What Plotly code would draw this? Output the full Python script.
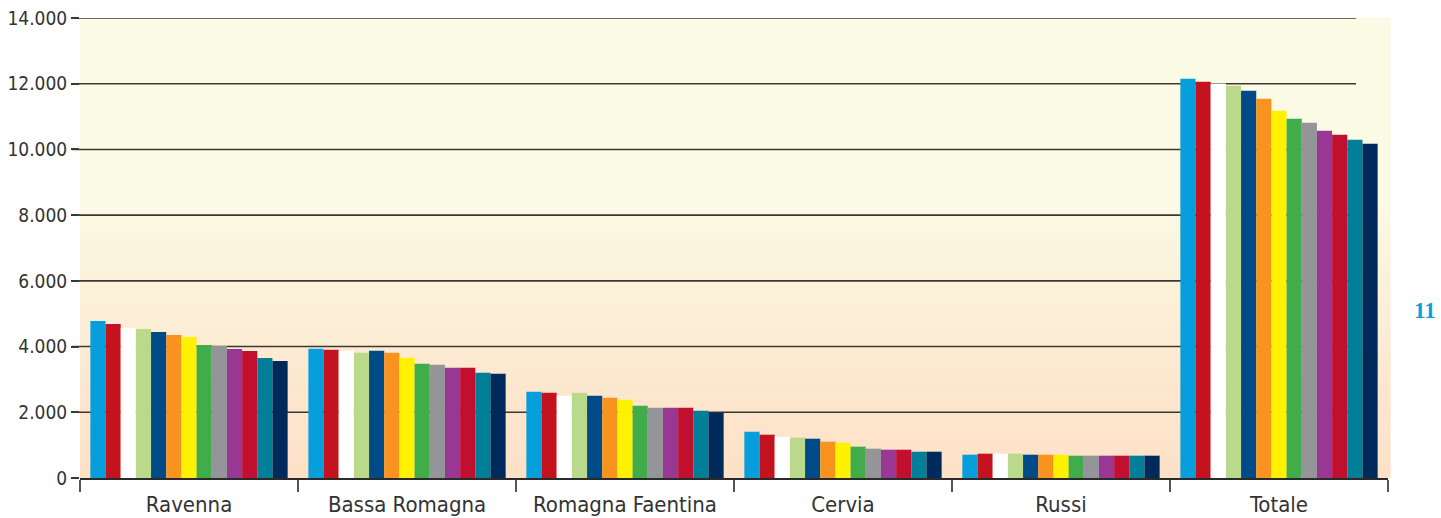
import plotly.graph_objects as go

categories = ["Ravenna", "Bassa Romagna", "Romagna Faentina", "Cervia", "Russi", "Totale"]

series_names = ["Serie 1", "Serie 2", "Serie 3", "Serie 4", "Serie 5", "Serie 6", "Serie 7",
                "Serie 8", "Serie 9", "Serie 10", "Serie 11", "Serie 12", "Serie 13"]

# values per series, in category order
s1 = [4780, 3935, 2627, 1409, 709, 12153]
s2 = [4690, 3905, 2596, 1318, 740, 12061]
s3 = [4565, 3874, 2505, 1257, 740, 12010]
s4 = [4535, 3813, 2596, 1227, 740, 11940]
s5 = [4443, 3874, 2505, 1196, 709, 11787]
s6 = [4352, 3813, 2444, 1105, 709, 11544]
s7 = [4291, 3661, 2383, 1074, 709, 11179]
s8 = [4048, 3479, 2200, 953, 679, 10935]
s9 = [4017, 3448, 2140, 892, 679, 10813]
s10 = [3926, 3357, 2140, 861, 679, 10570]
s11 = [3865, 3357, 2140, 861, 679, 10448]
s12 = [3652, 3205, 2048, 800, 679, 10296]
s13 = [3561, 3174, 1987, 800, 679, 10174]
series_values = [s1, s2, s3, s4, s5, s6, s7, s8, s9, s10, s11, s12, s13]

y_tick_values = [0, 2000, 4000, 6000, 8000, 10000, 12000, 14000]
y_tick_labels = ["0", "2.000", "4.000", "6.000", "8.000", "10.000", "12.000", "14.000"]

colors = ["#079fdb", "#c4121e", "#ffffff", "#bad98a", "#004b87", "#f7931e", "#fff200",
          "#40ad4a", "#939598", "#993894", "#c10f30", "#008098", "#002a5c"]

FONT = "DejaVu Sans Condensed, Liberation Sans Narrow, sans-serif"

fig = go.Figure()
for name, vals, col in zip(series_names, series_values, colors):
    fig.add_trace(go.Bar(x=categories, y=vals, name=name,
                         marker=dict(color=col, line=dict(width=0))))

shapes = []
# background gradient (pale yellow top -> peach bottom)
top = (251, 250, 228)
bot = (253, 225, 199)
n = 60
for i in range(n):
    y0 = i / n
    y1 = (i + 1) / n
    t = min(1.0, ((y0 + y1) / 2) / 0.6)
    t = t ** 1.2
    c = tuple(round(bot[k] + (top[k] - bot[k]) * t) for k in range(3))
    shapes.append(dict(type="rect", xref="paper", yref="paper", x0=0, x1=1.002, y0=y0, y1=y1 + 0.001,
                       fillcolor="rgb(%d,%d,%d)" % c, line=dict(width=0), layer="below"))
# gridlines (end before right edge)
for v in y_tick_values[1:]:
    shapes.append(dict(type="line", xref="paper", yref="y", x0=-0.006, x1=0.9755, y0=v, y1=v,
                       line=dict(color="#3a3834", width=1.6), layer="below"))

fig.update_layout(
    width=1441, height=518,
    margin=dict(l=80, r=53, t=18, b=40),
    paper_bgcolor="white",
    plot_bgcolor="white",
    barmode="group",
    bargap=0.095,
    bargroupgap=0,
    showlegend=False,
    shapes=shapes,
    font=dict(family=FONT, color="#333333", size=22),
    annotations=[dict(text="<b>11</b>", xref="paper", yref="paper", x=1.0285, y=0.365,
                      xanchor="center", yanchor="middle", showarrow=False,
                      font=dict(family="Liberation Serif, DejaVu Serif, serif", size=23, color="#0aa0dc"))],
)
fig.update_xaxes(
    automargin=False,
    showgrid=False, showline=True, linecolor="#2a2a2a", linewidth=2,
    ticks="outside", tickson="boundaries", ticklen=12, tickwidth=1.5, tickcolor="#555555",
    ticklabelstandoff=6,
    tickfont=dict(family=FONT, size=22, color="#333333"),
)
fig.update_yaxes(
    automargin=False,
    range=[0, 14000], showgrid=False, zeroline=False, showline=False,
    tickvals=y_tick_values, ticktext=y_tick_labels,
    ticks="outside", ticklen=8, tickwidth=1.6, tickcolor="#3a3834",
    tickfont=dict(family=FONT, size=19, color="#333333"),
)

fig.write_html("out.html")
